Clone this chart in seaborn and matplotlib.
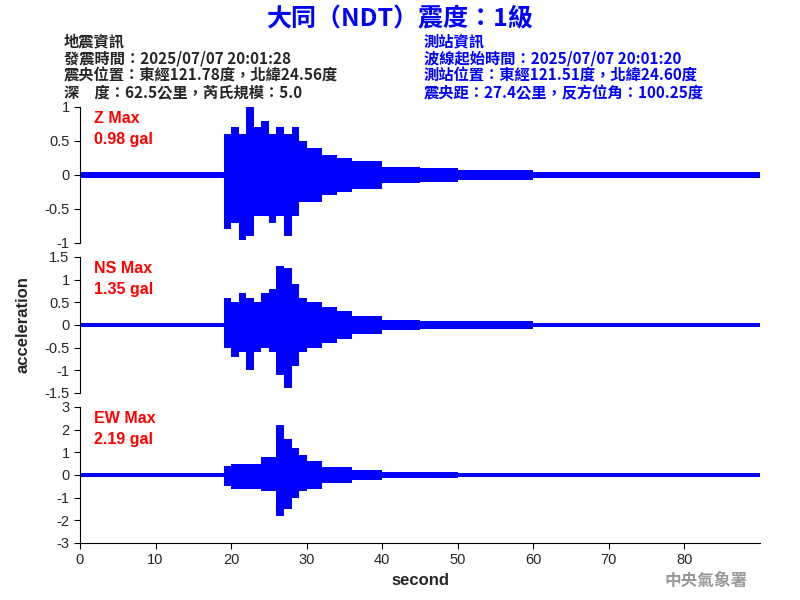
import numpy as np
import seaborn as sns
import matplotlib.pyplot as plt

sns.set_style("white")
plt.rcParams['font.family'] = ['Noto Sans CJK TC', 'DejaVu Sans']

# envelope knots (seconds) and per-second upper / lower amplitude read from the record
knots = [0, 19, 20, 21, 22, 23, 24, 25, 26, 27, 28, 29, 30, 32, 34, 36, 40, 45, 50, 60, 90]
z_up = [0.05, 0.6, 0.7, 0.6, 1.0, 0.7, 0.8, 0.6, 0.7, 0.6, 0.7, 0.5, 0.4, 0.3, 0.25, 0.2, 0.12, 0.1, 0.08, 0.05, 0.05]
z_lo = [-0.05, -0.8, -0.7, -0.95, -0.9, -0.6, -0.6, -0.7, -0.6, -0.9, -0.6, -0.4, -0.4, -0.3, -0.25, -0.2, -0.12, -0.1, -0.08, -0.05, -0.05]
ns_up = [0.05, 0.6, 0.5, 0.7, 0.6, 0.5, 0.7, 0.8, 1.3, 1.25, 0.9, 0.6, 0.5, 0.4, 0.3, 0.2, 0.12, 0.08, 0.08, 0.05, 0.05]
ns_lo = [-0.05, -0.5, -0.7, -0.6, -1.0, -0.6, -0.5, -0.6, -1.1, -1.4, -0.9, -0.6, -0.5, -0.4, -0.3, -0.2, -0.12, -0.08, -0.08, -0.05, -0.05]
ew_up = [0.07, 0.4, 0.5, 0.5, 0.5, 0.5, 0.8, 0.8, 2.2, 1.6, 1.2, 0.9, 0.6, 0.35, 0.35, 0.2, 0.12, 0.12, 0.07, 0.07, 0.07]
ew_lo = [-0.07, -0.5, -0.6, -0.6, -0.6, -0.6, -0.7, -0.7, -1.8, -1.5, -1.0, -0.7, -0.6, -0.35, -0.35, -0.2, -0.12, -0.12, -0.07, -0.07, -0.07]

panels = [
    ("Z Max\n0.98 gal", z_up, z_lo, 1, [-1, -0.5, 0, 0.5, 1], ["-1", "-0.5", "0", "0.5", "1"]),
    ("NS Max\n1.35 gal", ns_up, ns_lo, 1.5, [-1.5, -1, -0.5, 0, 0.5, 1, 1.5], ["-1.5", "-1", "-0.5", "0", "0.5", "1", "1.5"]),
    ("EW Max\n2.19 gal", ew_up, ew_lo, 3, [-3, -2, -1, 0, 1, 2, 3], ["-3", "-2", "-1", "0", "1", "2", "3"]),
]
bottoms = [0.595, 0.345, 0.095]
arial = ['Liberation Sans', 'DejaVu Sans']

fig = plt.figure(figsize=(8, 6), dpi=100)
axes = []
for (label, up, lo, lim, ticks, tlabels), b in zip(panels, bottoms):
    ax = fig.add_axes([0.1, b, 0.85, 0.2267])
    ax.fill_between(knots, lo, up, step='post', color='blue', lw=0)
    ax.plot([0, 90], [0, 0], color='blue', lw=0.8)
    ax.set_xlim(0, 90)
    ax.set_ylim(-lim, lim)
    ax.set_yticks(ticks)
    ax.set_yticklabels(tlabels, family=arial, fontsize=10.5)
    ax.text(0.02, 0.97, label, transform=ax.transAxes, color='red', fontsize=11.5,
            va='top', family=arial, fontweight='bold', linespacing=1.5)
    sns.despine(ax=ax, top=True, right=True, bottom=True)
    ax.tick_params(axis='y', length=4, direction='out', left=True, color='black')
    ax.spines['left'].set_color('black')
    ax.set_xticks([])
    axes.append(ax)

ax = axes[-1]
sns.despine(ax=ax, top=True, right=True, bottom=False)
ax.spines['bottom'].set_color('black')
ax.set_xticks([0, 10, 20, 30, 40, 50, 60, 70, 80])
ax.set_xticklabels(["0", "10", "20", "30", "40", "50", "60", "70", "80"], family=arial, fontsize=10.5)
ax.tick_params(axis='x', length=4, bottom=True, color='black')
ax.set_xlabel("second", fontsize=12, fontweight='bold', family=arial)
axes[1].set_ylabel("acceleration", fontsize=12, fontweight='bold', family=arial, labelpad=10)

fig.text(0.5, 0.968, "大同（NDT）震度：1級", color='blue', fontsize=18, fontweight='bold', ha='center', va='center')
left = "地震資訊\n發震時間：2025/07/07 20:01:28\n震央位置：東經121.78度，北緯24.56度\n深　度：62.5公里，芮氏規模：5.0"
right = "測站資訊\n波線起始時間：2025/07/07 20:01:20\n測站位置：東經121.51度，北緯24.60度\n震央距：27.4公里，反方位角：100.25度"
fig.text(0.08, 0.945, left, fontsize=11, fontweight='bold', va='top', linespacing=1.1)
fig.text(0.53, 0.945, right, fontsize=11, fontweight='bold', va='top', color='blue', linespacing=1.1)
fig.text(0.935, 0.032, "中央氣象署", fontsize=12, color='#999999', ha='right', va='center', fontweight='bold')

fig.savefig("out.png", dpi=100)
